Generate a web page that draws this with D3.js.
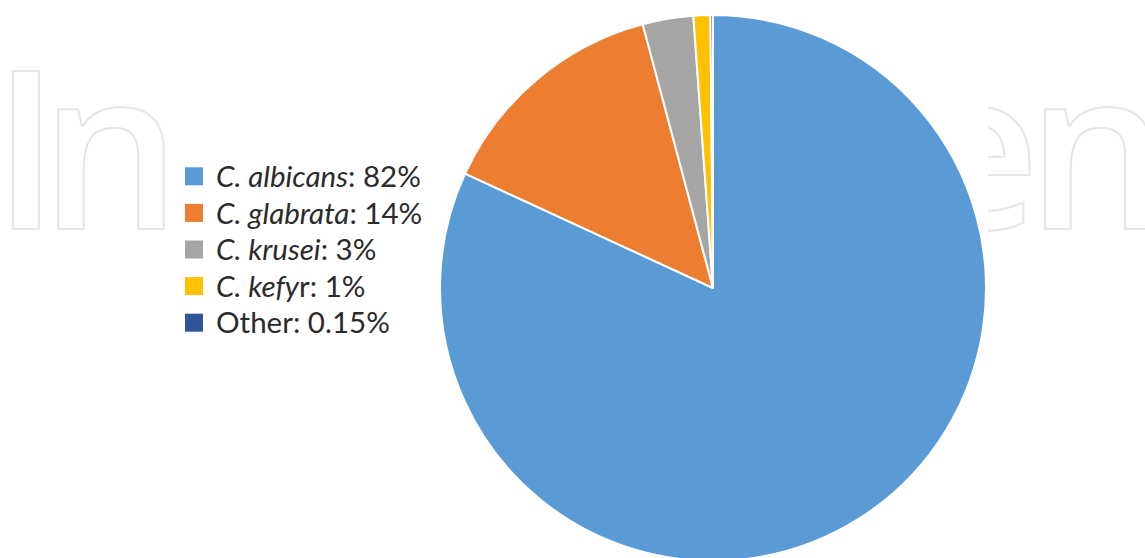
<!DOCTYPE html>
<html>
<head>
<meta charset="utf-8">
<script src="https://cdn.jsdelivr.net/npm/d3@7"></script>
<style>
  body { margin: 0; background: #fff; }
  svg { display: block; }
</style>
</head>
<body>
<div id="chart"></div>
<script>

// Species shares (percent)
const species = ["C. albicans", "C. glabrata", "C. krusei", "C. kefyr", "Other"];
const values = [82, 14, 3, 1, 0.15];
const italicPart = ["C. albicans", "C. glabrata", "C. krusei", "C. kefy", ""];
const restPart = [": 82%", ": 14%", ": 3%", "r: 1%", "Other: 0.15%"];
const colors = ["#5b9bd5", "#ed7d31", "#a5a5a5", "#ffc000", "#2f5597"];

// Watermark letters that show around the chart
const wmLetters = ["I", "n", "e", "n"];
const wmX = [-8, 40, 912, 1027];

function drawChart(){

    const width = 1145;
    const height = 558;
    const cx = 713;
    const cy = 288;
    const radius = 273;

    const svg = d3.select("#chart").append("svg")
        .attr("width", width)
        .attr("height", height)
        .attr("viewBox", [0, 0, width, height]);

    // Faint outlined watermark behind everything, hidden in the middle
    svg.append("clipPath").attr("id", "wmclip")
        .call(c => c.append("rect").attr("x", 0).attr("y", 0).attr("width", 172).attr("height", height))
        .call(c => c.append("rect").attr("x", 988).attr("y", 0).attr("width", width - 988).attr("height", height));

    svg.append("g")
        .attr("clip-path", "url(#wmclip)")
        .attr("font-family", "'Open Sans', sans-serif")
        .attr("font-weight", 600)
        .attr("font-size", 222)
        .attr("fill", "#fff")
        .attr("stroke", "#e6e6e6")
        .attr("stroke-width", 2)
        .selectAll("text")
        .data(wmLetters)
        .join("text")
        .attr("x", (d, i) => wmX[i])
        .attr("y", 229)
        .text(d => d);

    // Pie, clockwise from 12 o'clock, in data order
    const pie = d3.pie().sort(null).value(d => d)(values);
    const arc = d3.arc().innerRadius(0).outerRadius(radius);

    svg.append("g")
        .attr("transform", `translate(${cx},${cy})`)
        .selectAll("path")
        .data(pie)
        .join("path")
        .attr("d", arc)
        .attr("fill", (d, i) => colors[i])
        .attr("stroke", "#fff")
        .attr("stroke-width", 2)
        .attr("stroke-linejoin", "round");

    // Legend
    const y = d3.scaleBand()
        .domain(species)
        .range([158, 341]);

    const legend = svg.append("g")
        .attr("font-family", "Lato, 'Open Sans', sans-serif")
        .attr("font-size", 29.5)
        .attr("fill", "#2b2b2b");

    const row = legend.selectAll("g")
        .data(species)
        .join("g")
        .attr("transform", d => `translate(0,${y(d) + y.bandwidth() / 2})`);

    row.append("rect")
        .attr("x", 185)
        .attr("y", -9)
        .attr("width", 18)
        .attr("height", 18)
        .attr("fill", (d, i) => colors[i]);

    const label = row.append("text")
        .attr("x", 216)
        .attr("dy", "0.36em");

    label.append("tspan")
        .attr("font-style", "italic")
        .text((d, i) => italicPart[i]);

    label.append("tspan")
        .text((d, i) => restPart[i]);
}

drawChart();
</script>
</body>
</html>
